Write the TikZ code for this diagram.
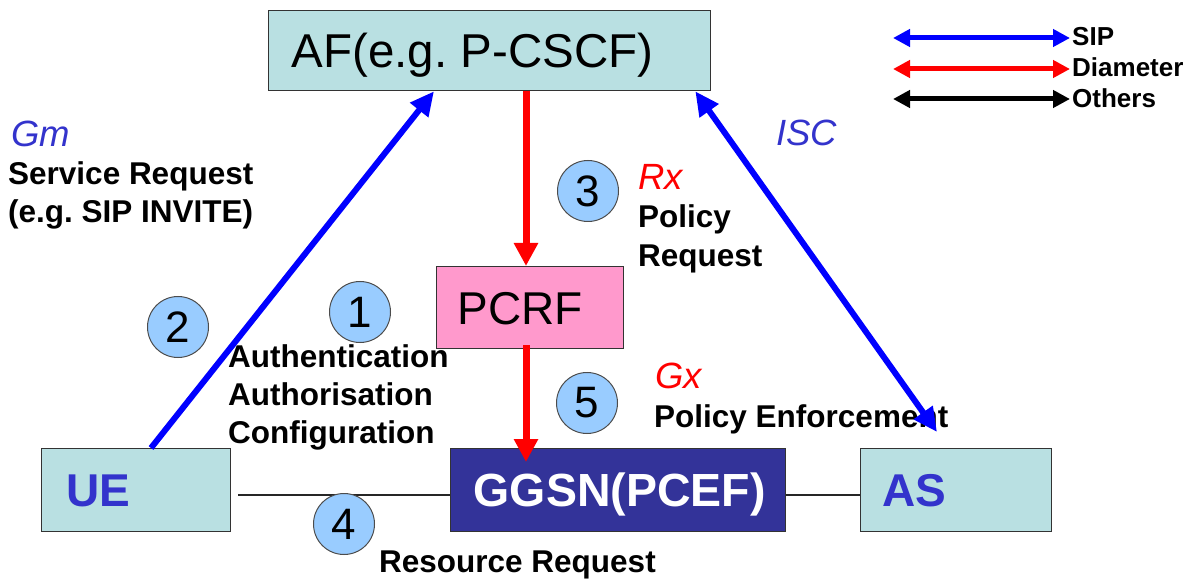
\documentclass[tikz,border=0pt]{standalone}
\usepackage{fontspec}
\setmainfont{Liberation Sans}
\usetikzlibrary{arrows.meta,calc}
\definecolor{boxteal}{RGB}{185,224,226}
\definecolor{pcrfpink}{RGB}{255,153,204}
\definecolor{navy}{RGB}{51,51,153}
\definecolor{circfill}{RGB}{153,204,255}
\definecolor{lblblue}{RGB}{51,51,204}
\definecolor{sipblue}{RGB}{0,0,255}
\definecolor{diared}{RGB}{255,0,0}
\tikzset{
  box/.style={draw=black!80, line width=1.3pt, inner ysep=0pt, anchor=north west, text depth=0pt},
  numc/.style={circle, draw=black!70, line width=1pt, fill=circfill, minimum size=61pt, inner sep=0pt, font=\fontsize{44}{44}\selectfont},
  lbl/.style={anchor=base west, inner sep=0pt, font=\fontsize{31.5}{38}\selectfont\bfseries},
  itl/.style={anchor=base west, inner sep=0pt, font=\fontsize{36.5}{40}\selectfont\itshape},
  leg/.style={anchor=base west, inner sep=0pt, font=\fontsize{26}{30}\selectfont\bfseries},
  sip/.style={draw=sipblue, line width=6pt},
  dia/.style={draw=diared, line width=7pt},
  oth/.style={draw=black!85, line width=2pt},
  legline/.style={line width=5pt, {Triangle[length=17pt,width=17pt]}-{Triangle[length=17pt,width=17pt]}},
  bighead/.style={-{Triangle[length=24pt,width=22pt]}},
  twohead/.style={{Triangle[length=24pt,width=22pt]}-{Triangle[length=24pt,width=22pt]}},
  redhead/.style={-{Triangle[length=23pt,width=23pt]}}
}
\begin{document}
\frenchspacing
\begin{tikzpicture}[x=1pt,y=-1pt]
\useasboundingbox (0,0) rectangle (1195,580);
\fill[white] (0,0) rectangle (1195,580);

% boxes
\node[box, fill=boxteal, inner xsep=23pt, minimum height=80pt, text height=34pt,
      font=\fontsize{47.5}{50}\selectfont] (af) at (268,10) {\makebox[396pt][l]{AF(e.g. P-CSCF)}};
\node[box, fill=pcrfpink, inner xsep=21pt, minimum height=82pt, text height=33pt,
      font=\fontsize{46}{50}\selectfont] (pcrf) at (436,266) {\makebox[145pt][l]{PCRF}};
\node[box, fill=boxteal, inner xsep=25pt, minimum height=83pt, text height=33.5pt,
      font=\fontsize{46}{50}\selectfont\bfseries, text=lblblue] (ue) at (41,448) {\makebox[139pt][l]{UE}};
\node[box, fill=navy, inner xsep=23pt, minimum height=83pt, text height=33.5pt,
      font=\fontsize{46.5}{50}\selectfont\bfseries, text=white] (ggsn) at (450,448) {\makebox[289pt][l]{GGSN(PCEF)}};
\node[box, fill=boxteal, inner xsep=22pt, minimum height=83pt, text height=33.5pt,
      font=\fontsize{46}{50}\selectfont\bfseries, text=lblblue] (as) at (860,448) {\makebox[147pt][l]{AS}};

% labels
\node[itl, text=lblblue] (gm) at (11,147) {Gm};
\node[lbl] (sr1) at (8,185) {Service Request};
\node[lbl] (sr2) at (8,223) {(e.g. SIP INVITE)};
\node[itl, text=lblblue] (isc) at (776,146) {ISC};
\node[itl, text=diared] (rx) at (638,190) {Rx};
\node[lbl] (pr1) at (638,228) {Policy};
\node[lbl] (pr2) at (638,267) {Request};
\node[itl, text=diared] (gx) at (655,388) {Gx};
\node[lbl] (pe) at (654,427) {Policy Enforcement};
\node[lbl] (rr) at (379,572) {Resource Request};

% connectors
\draw[oth] ($(ue.east)+(7,4.5)$) -- ($(ggsn.west)+(0,4.5)$);
\draw[oth] ($(ggsn.east)+(0,4.5)$) -- ($(as.west)+(0,4.5)$);
\draw[sip, bighead] ($(ue.north west)+(110,0)$) -- ($(af.south west)+(166,0)$);
\draw[sip, twohead] ($(af.south east)+(-16,0)$) -- ($(as.north west)+(77,-16)$);
\draw[dia, redhead] ($(af.south west)+(258,0)$) -- ($(pcrf.north west)+(90,0)$);
\draw[dia, redhead] ($(pcrf.south west)+(90,-4)$) -- ($(ggsn.north west)+(76,14)$);

% step circles
\node[numc] (c1) at (360,312) {1};
\node[numc] (c2) at (178,327) {2};
\node[numc] (c3) at (588,191) {3};
\node[numc] (c4) at (344,524) {4};
\node[numc] (c5) at (587,403) {5};

\node[lbl] (a1) at (228,367) {Authentication};
\node[lbl] (a2) at (228,405) {Authorisation};
\node[lbl] (a3) at (228,443) {Configuration};

% legend
\coordinate (l1a) at (893,38);  \coordinate (l1b) at (1070,38);
\coordinate (l2a) at (893,69);  \coordinate (l2b) at (1070,69);
\coordinate (l3a) at (893,99);  \coordinate (l3b) at (1070,99);
\draw[legline, draw=sipblue] (l1a) -- (l1b);
\draw[legline, draw=diared] (l2a) -- (l2b);
\draw[legline, draw=black] (l3a) -- (l3b);
\node[leg] (tsip) at ($(l1b)+(2,8)$) {SIP};
\node[leg] (tdia) at ($(l2b)+(2,8)$) {Diameter};
\node[leg] (toth) at ($(l3b)+(2,9)$) {Others};
\end{tikzpicture}
\end{document}
